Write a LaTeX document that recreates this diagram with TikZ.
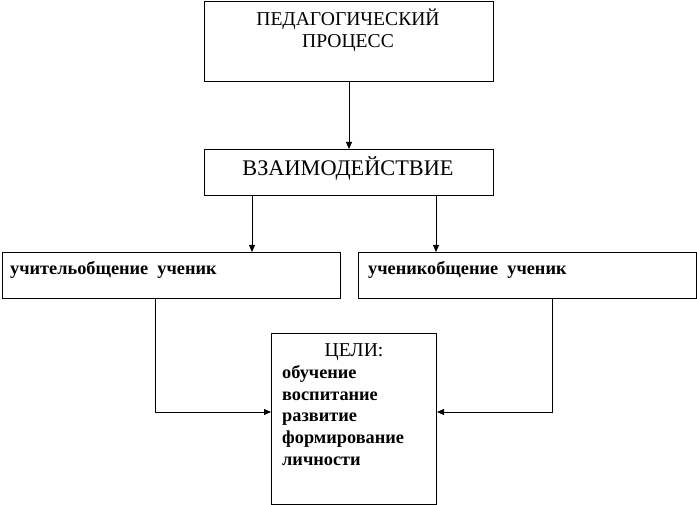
\documentclass[tikz,border=0pt]{standalone}
\usepackage{fontspec}
\setmainfont{Liberation Serif}
\usetikzlibrary{arrows.meta}
\begin{document}
\begin{tikzpicture}[x=1pt,y=-1pt,
  box/.style={draw,line width=1pt,inner sep=0pt},
  conn/.style={line width=0.8pt,-{Triangle[length=7pt,width=6pt]}},
  txt/.style={inner sep=0pt,anchor=base},
  small/.style={inner sep=0pt,anchor=base west,font=\fontsize{18.3}{20}\selectfont\bfseries}]
\useasboundingbox (0,0) rectangle (697,505);
% boxes
\node[box,minimum width=289pt,minimum height=80pt,anchor=north west] (proc) at (204,1) {};
\node[box,minimum width=289pt,minimum height=46pt,anchor=north west] (vz) at (204,149) {};
\node[box,minimum width=338pt,minimum height=46pt,anchor=north west] (ul) at (2,252) {};
\node[box,minimum width=338pt,minimum height=46pt,anchor=north west] (ur) at (358,252) {};
\node[box,minimum width=165pt,minimum height=171pt,anchor=north west] (cel) at (271,333) {};
% texts
\node[txt,font=\fontsize{19.6}{22}\selectfont] (t1) at (348,26) {ПЕДАГОГИЧЕСКИЙ};
\node[txt,font=\fontsize{19.6}{22}\selectfont] (t2) at (348,47.5) {ПРОЦЕСС};
\node[txt,font=\fontsize{22.3}{25}\selectfont] (t3) at (348,176) {ВЗАИМОДЕЙСТВИЕ};
\node[small] (t4) at (10,275) {учительобщение\ \ ученик};
\node[small] (t5) at (368,275) {ученикобщение\ \ ученик};
\node[txt,font=\fontsize{19.6}{22}\selectfont] (t6) at (354,357) {ЦЕЛИ:};
\node[small] (l1) at (282,378.5) {обучение};
\node[small] (l2) at (282,400.2) {воспитание};
\node[small] (l3) at (282,421.9) {развитие};
\node[small] (l4) at (282,443.6) {формирование};
\node[small] (l5) at (282,465.3) {личности};
% connectors
\draw[conn] (proc.south) -- (vz.north);
\draw[conn] (vz.south west) ++(48,0) coordinate (a1) -- (a1 |- ul.north);
\draw[conn] (vz.south west) ++(232,0) coordinate (a2) -- (a2 |- ur.north);
\coordinate (j1) at (155,412);
\coordinate (j2) at (552,412);
\draw[conn] (j1 |- ul.south) -- (j1) -- (j1 -| cel.west);
\draw[conn] (j2 |- ur.south) -- (j2) -- (j2 -| cel.east);
\end{tikzpicture}
\end{document}
